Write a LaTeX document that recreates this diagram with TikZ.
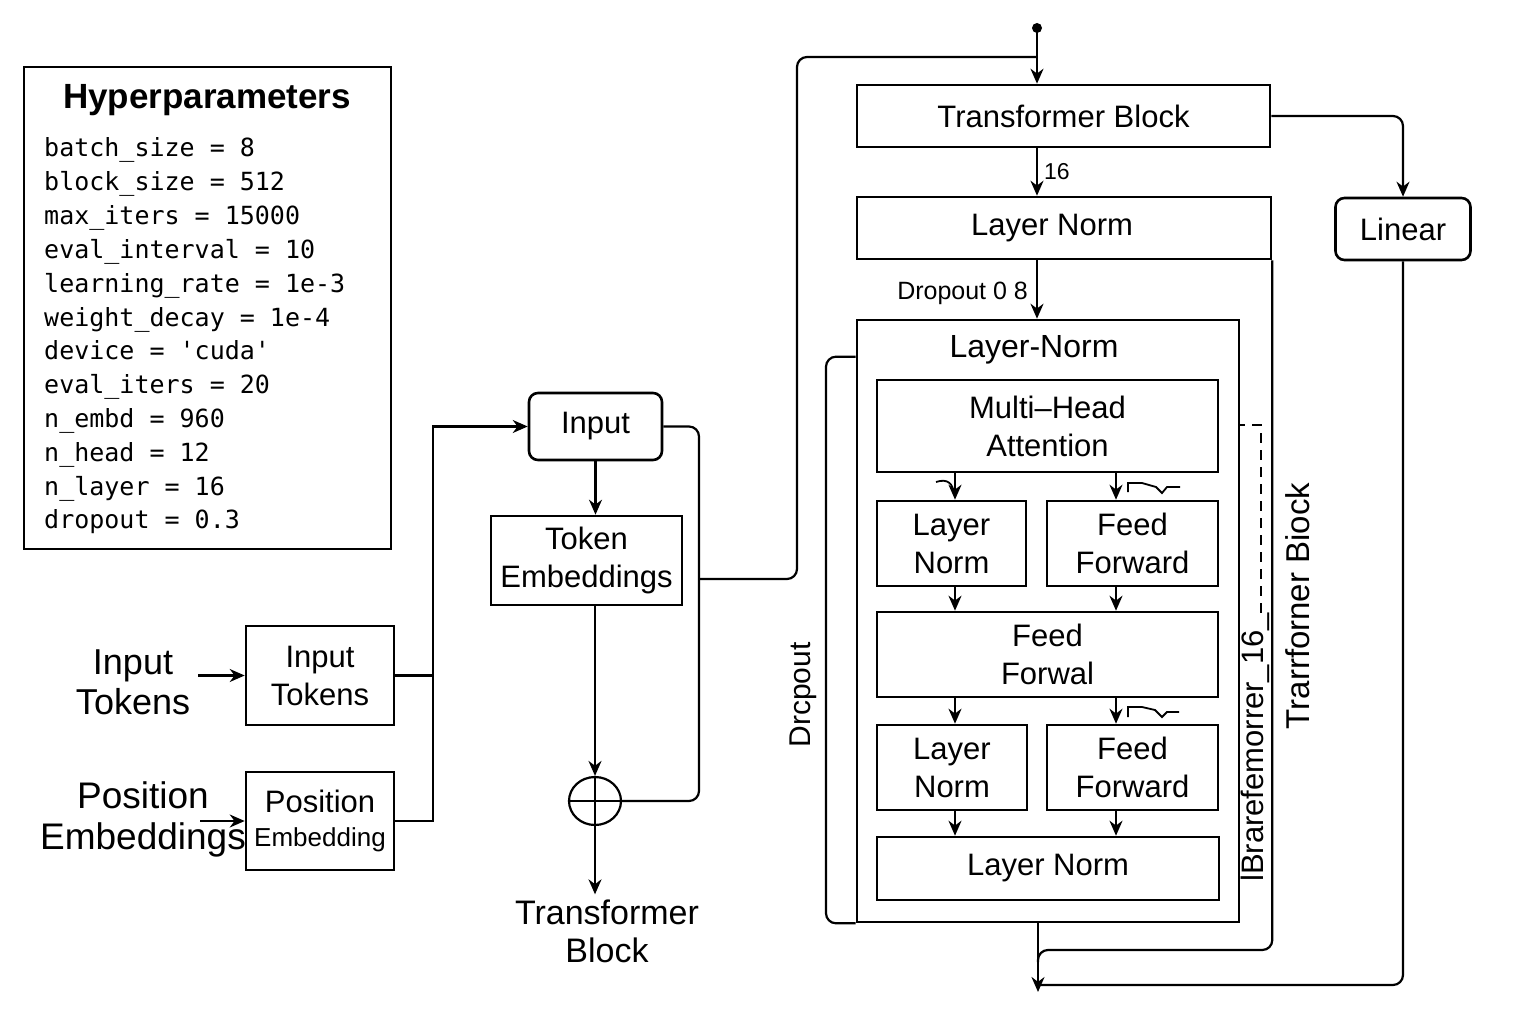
\documentclass[tikz,border=0pt]{standalone}
\usepackage{fontspec}
\setmainfont{Liberation Sans}
\setmonofont{DejaVu Sans Mono}
\usetikzlibrary{arrows.meta,shapes.geometric}

\begin{document}
\begin{tikzpicture}[x=1pt,y=-1pt]
\tikzstyle{every node}+=[inner sep=0pt]
\tikzstyle{box}=[draw, line width=2.6pt, align=center, font=\fontsize{31}{38}\selectfont]
\tikzstyle{rbox}=[box, rounded corners=9pt]
\tikzstyle{line}=[line width=2.2pt]
\tikzstyle{arr}=[line, -{Stealth[length=15pt,width=13pt]}]
\tikzstyle{mono}=[font=\fontsize{25}{30}\selectfont\ttfamily]
\useasboundingbox (0,0) rectangle (1536,1024);
% hyperparameters
\node [box, minimum width=367, minimum height=482] (hyp) at (207.5,308) {};
\node [font=\fontsize{35}{40}\selectfont\bfseries] (hyptitle) at (207,100) {Hyperparameters};
\foreach \t [count=\i from 0] in {batch\_size = 8, block\_size = 512, max\_iters = 15000,
  eval\_interval = 10, learning\_rate = 1e-3, weight\_decay = 1e-4, device = 'cuda',
  eval\_iters = 20, n\_embd = 960, n\_head = 12, n\_layer = 16, dropout = 0.3}
  \node [mono, anchor=base west] (hp\i) at (44,{157+33.8*\i}) {\t};
% inputs
\node [align=center, font=\fontsize{36}{40}\selectfont] (lbltok) at (133,682) {Input\\Tokens};
\node [align=center, font=\fontsize{37}{41}\selectfont] (lblpos) at (143,819) {Position\\Embeddings};
\node [box, minimum width=148, minimum height=99] (intok) at (320,675.5) {Input\\Tokens};
\node [box, minimum width=148, minimum height=98] (posemb) at (320,821) {Position\\[-4pt]{\fontsize{26}{30}\selectfont Embedding}};
\node [rbox, minimum width=133, minimum height=67] (inp) at (595.5,426.5) {Input};
\node [box, minimum width=191, minimum height=89] (tokemb) at (586.5,560.5) {Token\\Embeddings};
\node [draw, line width=2.2pt, ellipse, minimum width=52, minimum height=48] (sum) at (595,801) {};
\node [align=center, font=\fontsize{34}{38}\selectfont] (outlbl) at (607,931) {Transformer\\Block};
\coordinate (busx) at (433,426.5);
\coordinate (skip) at (699,600);
\coordinate (tap) at (699,579);
\coordinate (loopc) at (797,57);
\coordinate (topdot) at (1037,28);
\draw [arr] ([xshift=8pt]lbltok.east |- intok.west) -- (intok.west);
\draw [arr] (200,821) coordinate (posin) -- (posin -| posemb.west);
\draw [line] (intok.east) -- (intok.east -| busx);
\draw [arr] (posemb.east) -| (busx) -- (inp.west);
\draw [arr] (inp.south) -- (inp.south |- tokemb.north);
\draw [arr] (sum.north |- tokemb.south) -- (sum.north);
\draw [line] (sum.north) -- (sum.south);
\draw [line] (sum.west) -- (sum.east);
\draw [arr] (sum.south) -- ([yshift=5pt]sum.south |- outlbl.north);
\draw [line, rounded corners=10pt] (inp.east) -| (skip) |- (sum.east);
\draw [line, rounded corners=10pt] (tap) -| (loopc) -- (loopc -| topdot);
% transformer stack
\node [box, minimum width=413, minimum height=62] (tb) at (1063.5,116) {Transformer Block};
\node [box, minimum width=414, minimum height=62] (ln1) at (1064,228) {Layer Norm\hspace*{24pt}};
\node [rbox, minimum width=135, minimum height=62] (linear) at (1403,229) {Linear};
\fill (topdot) circle (5);
\draw [arr] (topdot) -- (topdot |- tb.north);
\draw [arr] (topdot |- tb.south) -- (topdot |- ln1.north) node [midway, right=6pt, font=\fontsize{23}{26}\selectfont] {16};
\draw [arr, rounded corners=10pt] (tb.east) -| (linear.north);
\node [box, minimum width=382, minimum height=602] (big) at (1048,621) {};
\draw [arr] (topdot |- ln1.south) -- (topdot |- big.north) node [midway, left=8pt, yshift=-4pt, font=\fontsize{25}{28}\selectfont] {Dropout 0 8};
\node [font=\fontsize{32}{36}\selectfont] (lnhead) at (1034,350) {Layer-Norm};
\node [box, minimum width=341, minimum height=92] (mha) at (1047.5,426) {Multi--Head\\Attention};
\node [box, minimum width=149, minimum height=85] (lnA) at (951.5,543.5) {Layer\\Norm};
\node [box, minimum width=171, minimum height=85] (ffA) at (1132.5,543.5) {Feed\\Forward};
\node [box, minimum width=341, minimum height=85] (ffw) at (1047.5,654.5) {Feed\\Forwal};
\node [box, minimum width=150, minimum height=85] (lnB) at (952,767.5) {Layer\\Norm};
\node [box, minimum width=171, minimum height=85] (ffB) at (1132.5,767.5) {Feed\\Forward};
\node [box, minimum width=342, minimum height=63] (lnC) at (1048,868.5) {Layer Norm};
\coordinate (lcol) at (955,0);
\coordinate (rcol) at (1116,0);
\draw [arr] (lcol |- mha.south) -- (lcol |- lnA.north);
\draw [arr] (rcol |- mha.south) -- (rcol |- ffA.north);
\draw [arr] (lcol |- lnA.south) -- (lcol |- ffw.north);
\draw [arr] (rcol |- ffA.south) -- (rcol |- ffw.north);
\draw [arr] (lcol |- ffw.south) -- (lcol |- lnB.north);
\draw [arr] (rcol |- ffw.south) -- (rcol |- ffB.north);
\draw [arr] (lcol |- lnB.south) -- (lcol |- lnC.north);
\draw [arr] (rcol |- ffB.south) -- (rcol |- lnC.north);
% squiggles
\draw [line width=1.8pt] (936,482) .. controls (948,478) and (953,484) .. (954,494);
\draw [line width=1.8pt] (1128,492) -- (1128,483) -- (1142,483) -- (1156,487) -- (1162,493) -- (1167,487) -- (1180,487);
\draw [line width=1.8pt] (1128,717) -- (1128,707) -- (1142,707) -- (1155,710) -- (1162,717) -- (1167,712) -- (1179,712);
% side labels and loops
\node [rotate=90, font=\fontsize{30}{34}\selectfont] (drop) at (803,695) {Drcpout};
\node [rotate=90, font=\fontsize{33}{36}\selectfont] (tflabel) at (1298,606) {Trarrforner Biock};
\node [rotate=90, anchor=west, font=\fontsize{31}{34}\selectfont] (ibr) at (1255,882) {lBrarefemorrer\_16\_};
\coordinate (dashtop) at (1261,425);
\draw [line width=1.8pt, dash pattern=on 10pt off 7pt] (dashtop |- ibr.east) -- (dashtop) -- (dashtop -| big.east);
\coordinate (dropL) at (826,640);
\draw [line, rounded corners=10pt] ([yshift=-38pt]big.north west) -| (dropL) |- (big.south west);
\coordinate (outpt) at (1038,992);
\coordinate (mergeA) at (1038,950);
\coordinate (mergeB) at (1038,985);
\draw [arr] (outpt |- big.south) -- (outpt);
\draw [line, rounded corners=10pt] (ln1.south east) |- (mergeA) -- (1038,962);
\draw [line, rounded corners=10pt] (linear.south) |- (mergeB);
\end{tikzpicture}
\end{document}
